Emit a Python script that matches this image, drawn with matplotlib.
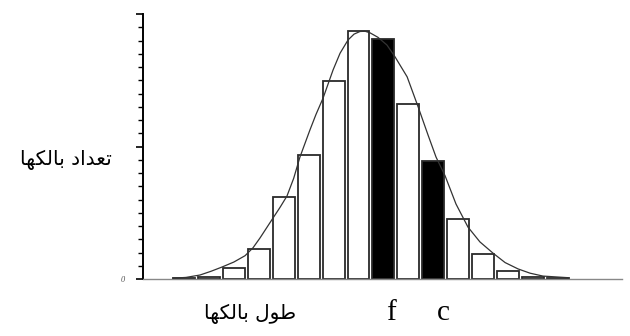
import matplotlib
matplotlib.use("Agg")
import matplotlib.pyplot as plt
from matplotlib.ticker import MultipleLocator, FixedLocator

# ---- data ----
length_classes = list(range(16))
counts = [0.5, 0.9, 4.3, 11.3, 30.8, 46.8, 74.8, 93.6,
          90.5, 66.2, 44.6, 22.6, 9.6, 3.1, 0.9, 0.5]
highlight = [8, 10]   # filled (black) classes

# fitted curve, points (class units, count units)
curve_x = [-0.44, 0.08, 0.64, 1.08, 1.52, 2.00, 2.45, 2.77, 3.05, 3.57,
           3.85, 4.13, 4.40, 4.65, 5.05, 5.29, 5.58, 5.98, 6.26, 6.58,
           6.82, 7.06, 7.26, 7.46, 7.78, 8.14, 8.46, 8.95, 9.39, 9.79,
           10.11, 10.47, 10.91, 11.39, 11.87, 12.39, 12.88, 13.40, 13.88,
           14.40, 15.40]
curve_y = [0.3, 0.6, 1.5, 2.9, 4.5, 6.4, 8.8, 11.8, 15.5, 23.0,
           27.0, 31.3, 38.0, 46.0, 56.2, 62.0, 68.3, 78.9, 85.2, 90.2,
           92.4, 93.4, 93.5, 92.9, 91.2, 88.3, 83.9, 76.3, 65.0, 54.3,
           46.0, 39.0, 28.3, 19.6, 14.0, 9.8, 6.2, 3.8, 2.2,
           1.1, 0.5]

y_tick_labels = {0: "0"}

# Persian labels (presentation forms, visual order)
ylabel_logical = "\uFE97\uFECC\uFEAA\uFE8D\uFEA9 \uFE91\uFE8E\uFEDF\uFB91\uFEEC\uFE8E"   # تعداد بالکها
xlabel_logical = "\uFEC3\uFEEE\uFEDD \uFE91\uFE8E\uFEDF\uFB91\uFEEC\uFE8E"               # طول بالکها
ylabel_text = ylabel_logical[::-1]
xlabel_text = xlabel_logical[::-1]
marker_labels = ["f", "c"]

# ---- figure ----
fig = plt.figure(figsize=(6.3, 3.36), dpi=100)
ax = fig.add_axes([143/630, 1-279/336, 479/630, 265/336])

colors = ["black" if i in highlight else "white" for i in length_classes]
ax.bar(length_classes, counts, width=0.88, color=colors,
       edgecolor="#2a2a2a", linewidth=1.3, zorder=2)
ax.plot(curve_x, curve_y, color="#333333", linewidth=0.9, zorder=3)

ax.set_xlim((143-184)/24.93, (622-184)/24.93)
ax.set_ylim(0, 100)

for s in ["top", "right"]:
    ax.spines[s].set_visible(False)
ax.spines["left"].set_color("black")
ax.spines["left"].set_linewidth(1.4)
ax.spines["bottom"].set_color("#888888")
ax.spines["bottom"].set_linewidth(1.0)

ax.set_xticks([])
ax.yaxis.set_major_locator(FixedLocator([0, 50, 100]))
ax.yaxis.set_minor_locator(MultipleLocator(5))
ax.set_yticklabels([y_tick_labels.get(v, "") for v in [0, 50, 100]],
                   fontsize=6, style="italic", color="#555555",
                   family="Liberation Serif")
ax.tick_params(axis="y", which="major", length=5, width=1.2, color="black", pad=8)
ax.tick_params(axis="y", which="minor", length=3.5, width=1.0, color="black")

fig.text(66/630, 1-160/336, ylabel_text, ha="center", va="center",
         fontsize=14.5, family="DejaVu Sans")
fig.text(250/630, 1-314/336, xlabel_text, ha="center", va="center",
         fontsize=14.5, family="DejaVu Sans")
fig.text(391/630, 1-320/336, marker_labels[0], ha="center", va="baseline",
         fontsize=21, family="Liberation Serif")
fig.text(443.5/630, 1-320/336, marker_labels[1], ha="center", va="baseline",
         fontsize=21, family="Liberation Serif")

fig.savefig("out.png", dpi=100, facecolor="white")
